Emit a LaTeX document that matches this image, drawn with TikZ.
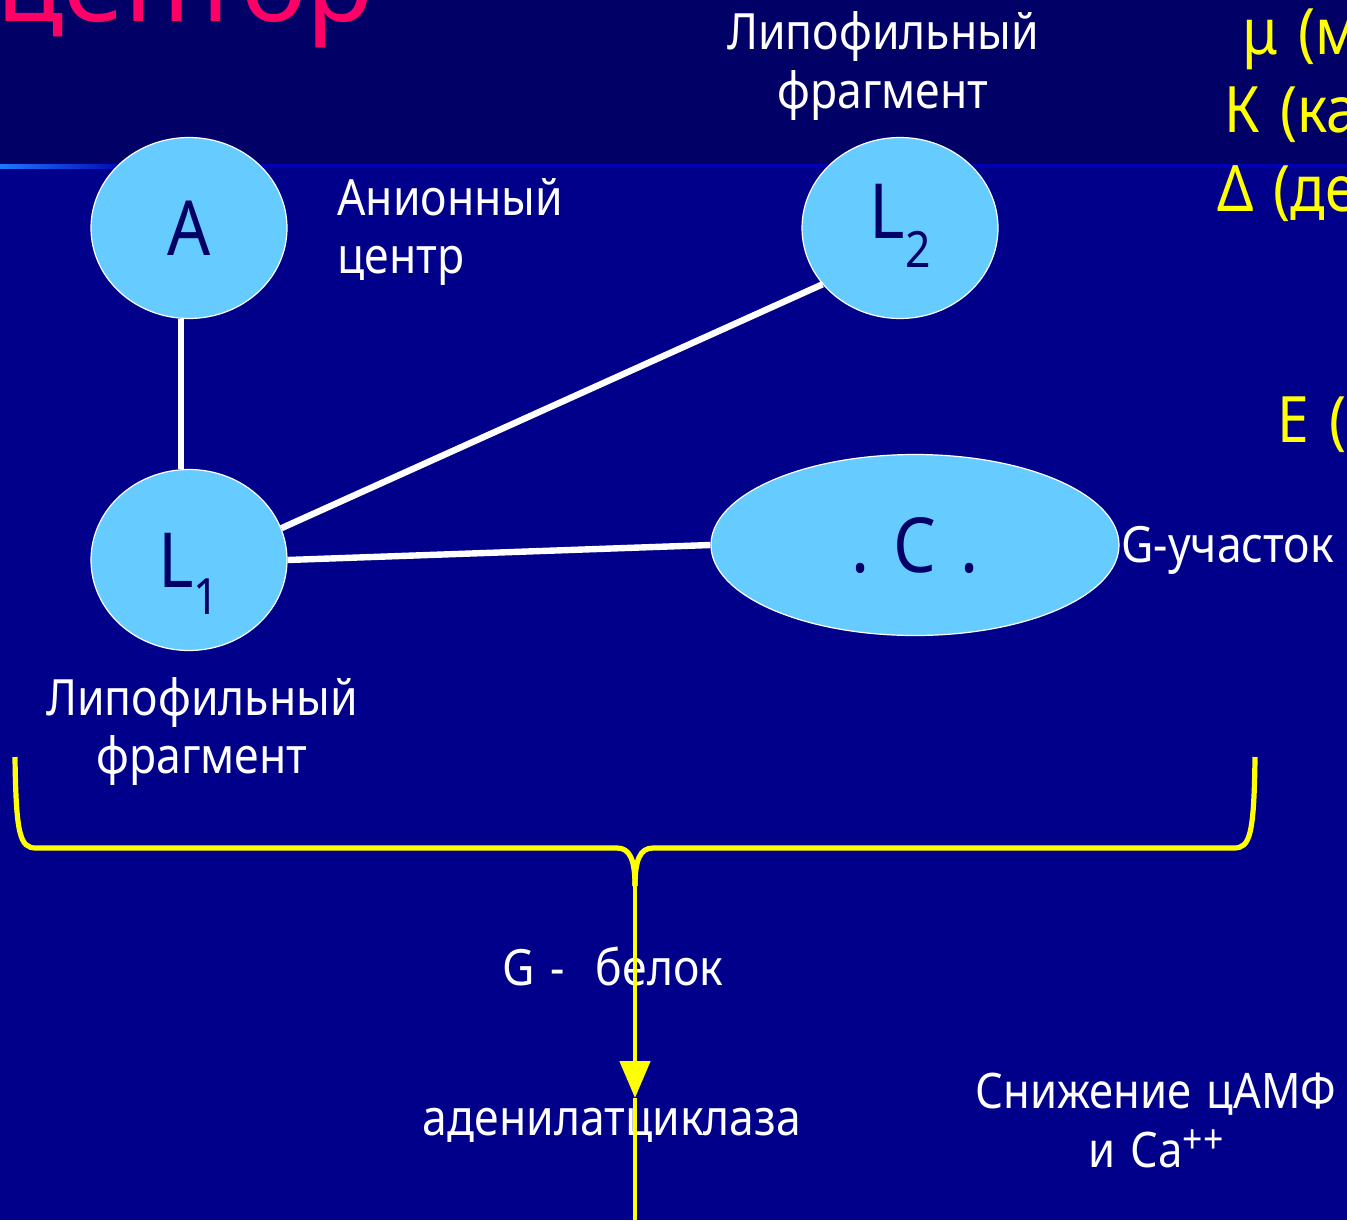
\documentclass[tikz,border=0pt]{standalone}
\usepackage{fontspec}
\setmainfont{Noto Sans}[FakeStretch=0.89, WordSpace=1.35]
\newfontfamily\titleface{Noto Sans}
\usetikzlibrary{arrows.meta, shapes.geometric, calc}
\definecolor{slideTop}{HTML}{000066}
\definecolor{slideBg}{HTML}{00008A}
\definecolor{slideLine}{HTML}{0000B0}
\definecolor{slideGlow}{HTML}{1E78FF}
\definecolor{bubbleFill}{HTML}{66CCFF}
\definecolor{bubbleText}{HTML}{000066}
\definecolor{titlePink}{HTML}{FF0066}
\definecolor{noteYellow}{HTML}{FFFF00}
\newcommand{\Lsub}[2]{L\raisebox{-#2}[0pt][0pt]{\fontsize{25}{25}\selectfont #1}}
\newcommand{\ionsup}[1]{\raisebox{7pt}{\fontsize{20}{20}\selectfont #1}}
\tikzset{
  bubble/.style={ellipse, draw=white, line width=0.6pt, fill=bubbleFill,
                 text=bubbleText, inner sep=0pt, minimum width=98pt,
                 minimum height=90.5pt, font=\fontsize{38}{38}\selectfont,
                 text height=27pt, text depth=0pt},
  link/.style={white, line width=3.2pt},
  labelW/.style={text=white, font=\fontsize{25}{29}\selectfont, inner sep=0pt},
  noteY/.style={text=noteYellow, font=\fontsize{32}{32}\selectfont,
                inner sep=0pt, anchor=base west},
  brace/.style={noteYellow, line width=2.6pt},
  arrowY/.style={-{Triangle[width=15pt, length=18.5pt]}, noteYellow, line width=2.4pt},
}

\begin{document}
\begin{tikzpicture}[x=0.5pt, y=-0.5pt]
    \useasboundingbox (0,0) rectangle (1347,1220);
    \clip (0,0) rectangle (1347,1220);
    % slide background
    \fill[slideBg] (0,0) rectangle (1347,1220);
    \fill[slideTop] (0,0) rectangle (1347,165);
    \shade[left color=slideGlow, right color=slideLine] (0,164) rectangle (130,168);
    \fill[slideLine] (130,164) rectangle (1347,168);
    \node[anchor=base west, inner sep=0pt, text=titlePink,
          font=\titleface\fontsize{55}{55}\selectfont\bfseries] (title) at (-4,22) {цептор};

    % receptor sites
    \node[bubble] (A) at (189,228) {A};
    \node[bubble, text height=10pt] (L2) at (900,228) {\Lsub{2}{14.5pt}};
    \node[bubble] (L1) at (189,560) {\Lsub{1}{13.5pt}};
    \node[bubble, minimum width=204pt] (C) at (915,545) {.\ C\ .};
    \draw[link] ([xshift=-4pt]A.south) -- ([xshift=-4pt]L1.north);
    \draw[link] (L1.19) -- (L2.216);
    \draw[link] (L1.east) -- (C.west);

    \node[labelW, anchor=west, align=left] (anion) at (337,232) {Анионный\\центр};
    \node[labelW, align=center] (lipo2) at (883,66) {Липофильный\\фрагмент};
    \node[labelW, align=center] (lipo1) at (202,731) {Липофильный\\фрагмент};
    \node[labelW, anchor=base west] (gsite) at (1121,562) {G-участок};

    % receptor types, cut by the slide edge
    \node[noteY] (mu) at (1242,55) {μ (м};
    \node[noteY] (kappa) at (1224,133) {К (ка};
    \node[noteY] (delta) at (1217,211) {Δ (де};
    \node[noteY] (eps) at (1277,442) {Е (};

    % brace and signal path
    \coordinate (braceL) at (15,757);
    \coordinate (braceR) at (1255,757);
    \coordinate (fork) at (635,886);
    \coordinate (hit) at (635,1098);
    \coordinate (exit) at (635,1220);
    \draw[brace] (braceL) .. controls (16,835) and (20,848) .. (36,848) -- (617,848)
      .. controls (630,848) and (635,860) .. (fork);
    \draw[brace] (braceR) .. controls (1254,835) and (1250,848) .. (1234,848) -- (653,848)
      .. controls (640,848) and (635,860) .. (fork);
    \node[labelW, anchor=base west] (gprot) at (502,985) {G -\ \ белок};
    \node[labelW, anchor=base] (adcyc) at (612,1135) {аденилатциклаза};
    \draw[arrowY] (fork) -- (hit);
    \draw[brace, line width=1.6pt] (hit) -- (exit);
    \node[labelW, align=center, font=\fontsize{24.5}{29.5}\selectfont] (camp)
      at (1156,1120) {Снижение цАМФ\\и Ca\ionsup{++}};
\end{tikzpicture}
\end{document}
